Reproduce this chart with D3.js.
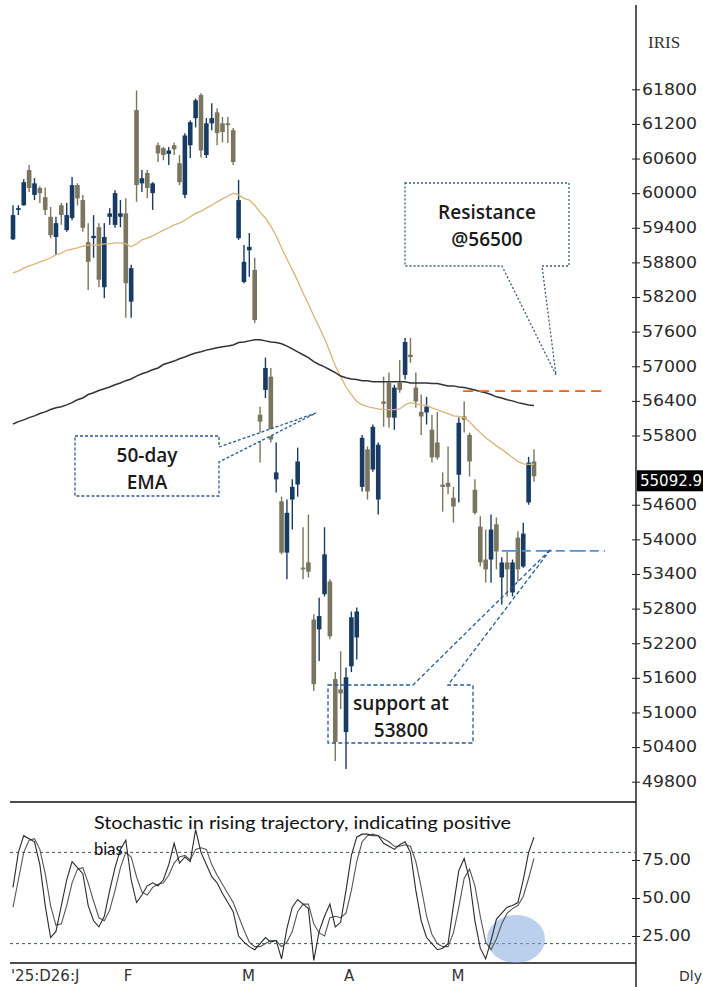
<!DOCTYPE html>
<html>
<head>
<meta charset="utf-8">
<script src="https://cdn.jsdelivr.net/npm/d3@7"></script>
<style>
  body { margin: 0; background: #fff; }
  svg { display: block; }
</style>
</head>
<body>
<script>
const width = 703;
const height = 987;

// daily candles, oldest first (late Dec '25 .. end May '26)
const opens = [
  59200, 59710, 59790, 60400, 59970, 60090, 59930, 59590, 59240, 59790,
  59360, 59570, 60140, 59880, 59150, 59220, 59410, 58370, 59590, 59450,
  59590, 59650, 58120, 61440, 60170, 60350, 60000, 60830, 60780, 60680,
  60830, 60520, 59970, 60830, 61300, 61700, 60660, 61210, 61400, 61210,
  61210, 61090, 59220, 58460, 59010, 58670, 56160, 56590, 56820, 55040,
  54660, 53770, 54690, 54950, 53510, 53600, 52610, 52440, 53050, 53270,
  51580, 51400, 50660, 51800, 52300, 54910, 55560, 55210, 54690, 56390,
  56710, 56110, 56710, 56850, 57200, 56630, 56210, 56200, 55900, 55680,
  54950, 54980, 54720, 55120, 56130, 55810, 54860, 54220, 53650, 53650,
  54260, 53340, 53600, 53080, 54030, 53530, 54640, 55350
];
const highs = [
  59790, 59790, 60240, 60490, 60260, 60120, 60100, 59760, 59590, 59830,
  59830, 60280, 60170, 59970, 59480, 59620, 59480, 59480, 59740, 60050,
  59880, 59910, 58760, 61780, 60400, 60400, 60190, 60880, 60800, 60800,
  60880, 60660, 61040, 61260, 61640, 61730, 61300, 61560, 61470, 61320,
  61320, 61130, 60230, 59100, 59310, 58880, 56300, 57150, 56970, 55680,
  54740, 54690, 55040, 55590, 54210, 54430, 52700, 52990, 54210, 53310,
  51700, 52060, 51780, 52750, 52820, 55810, 55610, 55990, 55680, 56820,
  56890, 56680, 57110, 57490, 57490, 56890, 56510, 56470, 56160, 56210,
  55160, 55610, 54910, 56110, 56390, 55850, 55040, 54400, 54170, 54430,
  54380, 53690, 53790, 53650, 54140, 54290, 55430, 55560
];
const lows = [
  59190, 59620, 59780, 60020, 59880, 59830, 59620, 59220, 58930, 59450,
  59330, 59530, 59790, 59330, 58320, 58880, 58370, 58180, 59450, 59400,
  59410, 57840, 57840, 59850, 60020, 59910, 59710, 60540, 60570, 60490,
  60660, 60140, 59910, 60610, 61140, 60620, 60610, 61090, 60830, 60880,
  60870, 60490, 59190, 58440, 58550, 57750, 55330, 56450, 55680, 54810,
  53740, 53310, 54170, 54740, 53310, 53340, 51370, 51890, 53010, 52270,
  50160, 51060, 50020, 51700, 51920, 54830, 54690, 55170, 54430, 55950,
  55940, 55900, 56540, 56770, 57060, 56280, 55810, 55990, 55330, 55380,
  54480, 54780, 54290, 54640, 55850, 55090, 54430, 53530, 53250, 53250,
  53480, 52870, 53010, 53010, 53270, 53510, 54600, 55000
];
const closes = [
  59620, 59740, 60190, 60090, 60170, 60000, 59710, 59270, 59480, 59620,
  59620, 60140, 59910, 59400, 58810, 59260, 58500, 59240, 59650, 60000,
  59650, 58440, 58700, 60140, 60260, 60090, 60170, 60690, 60660, 60740,
  60760, 60190, 61000, 61230, 61610, 60740, 61210, 61300, 61040, 61060,
  61180, 60540, 59880, 58810, 59070, 57800, 56040, 56970, 55730, 55160,
  53770, 54460, 54910, 55350, 53480, 53440, 51490, 52670, 53740, 52320,
  50490, 51330, 51610, 52650, 52750, 55760, 54830, 55950, 55640, 56350,
  56110, 56630, 56590, 57420, 57160, 56390, 56130, 56300, 55420, 55420,
  54910, 54910, 54570, 56020, 56070, 55350, 54460, 53600, 53480, 54170,
  53790, 53600, 53480, 53600, 53480, 54100, 55330, 55092.9
];

// 50-day EMA (tan) and the long EMA (dark)
const ema50 = [
  58620, 58650, 58700, 58740, 58770, 58810, 58840, 58880, 58930, 58960,
  59010, 59030, 59050, 59080, 59100, 59100, 59100, 59120, 59120, 59140,
  59140, 59120, 59070, 59120, 59190, 59220, 59260, 59310, 59360, 59400,
  59450, 59480, 59530, 59590, 59650, 59690, 59740, 59790, 59850, 59900,
  59950, 60000, 59970, 59910, 59880, 59790, 59670, 59570, 59430, 59260,
  59050, 58860, 58670, 58480, 58270, 58080, 57870, 57680, 57480, 57250,
  57010, 56820, 56640, 56510, 56390, 56330, 56300, 56280, 56260, 56250,
  56250, 56250, 56260, 56330, 56370, 56350, 56330, 56320, 56280, 56250,
  56210, 56180, 56140, 56130, 56110, 56040, 55940, 55850, 55760, 55690,
  55620, 55560, 55490, 55420, 55350, 55310, 55300, 55300
];
const emaLong = [
  56000, 56040, 56070, 56110, 56140, 56180, 56210, 56250, 56280, 56300,
  56330, 56370, 56420, 56450, 56510, 56540, 56580, 56610, 56640, 56680,
  56710, 56750, 56780, 56830, 56870, 56900, 56940, 56970, 57030, 57060,
  57090, 57130, 57160, 57200, 57230, 57250, 57280, 57300, 57320, 57340,
  57350, 57370, 57410, 57420, 57440, 57460, 57460, 57440, 57420, 57410,
  57390, 57350, 57300, 57250, 57200, 57150, 57080, 57030, 56990, 56940,
  56890, 56830, 56800, 56780, 56770, 56750, 56750, 56730, 56730, 56730,
  56730, 56730, 56730, 56730, 56710, 56710, 56710, 56710, 56700, 56700,
  56680, 56660, 56660, 56640, 56630, 56610, 56590, 56560, 56540, 56510,
  56470, 56450, 56420, 56400, 56370, 56350, 56330, 56320
];

// stochastic %K / %D
const stochK = [
  57, 80, 91, 89, 87, 72, 45, 24, 28, 45,
  62, 74, 70, 66, 45, 35, 31, 38, 55, 70,
  82, 88, 62, 47, 52, 58, 60, 58, 62, 72,
  86, 73, 77, 74, 95, 80, 72, 64, 60, 53,
  47, 41, 25, 21, 18, 16, 20, 24, 21, 22,
  10, 30, 44, 49, 46, 43, 9, 28, 38, 46,
  31, 34, 55, 78, 90, 92, 92, 91, 91, 86,
  84, 82, 85, 87, 80, 55, 35, 24, 20, 16,
  17, 20, 45, 68, 76, 62, 35, 17, 10, 22,
  36, 40, 44, 45, 47, 62, 80, 90
];
const stochD = [
  44, 62, 80, 88, 89, 82, 66, 45, 32, 33,
  45, 60, 69, 70, 60, 48, 37, 35, 42, 55,
  70, 80, 77, 64, 54, 52, 57, 59, 60, 65,
  73, 77, 78, 75, 82, 83, 82, 72, 65, 59,
  53, 47, 38, 29, 21, 18, 18, 20, 22, 22,
  18, 21, 28, 41, 46, 46, 33, 27, 25, 37,
  38, 37, 40, 55, 74, 87, 91, 92, 91, 89,
  87, 84, 84, 85, 84, 74, 57, 38, 26, 20,
  18, 18, 27, 44, 63, 69, 58, 38, 21, 16,
  23, 33, 40, 43, 45, 51, 63, 76
];

const priceTicks = [61800, 61200, 60600, 60000, 59400, 58800, 58200, 57600, 57000,
  56400, 55800, 54600, 54000, 53400, 52800, 52200, 51600, 51000, 50400, 49800];
const stochTicks = [75, 50, 25];
const stochLevels = [80, 20];
const monthLabels = ["'25:D26:J", "F", "M", "A", "M"];
const monthStarts = [0, 21, 43, 62, 82];

const lastPrice = 55092.9;
const resistanceLevel = 56570;
const supportLevel = 53800;

const axisX = 636;
const blue = "#183b64";
const grey = "#7a755e";

const svg = d3.select("body")
  .append("svg")
  .attr("width", width)
  .attr("height", height);

const x = d3.scaleLinear()
  .domain([0, opens.length - 1])
  .range([13, 534]);

const y = d3.scaleLinear()
  .domain([49800, 61800])
  .range([781.7, 89.3]);

const ys = d3.scaleLinear()
  .domain([0, 100])
  .range([974, 822]);

const candles = opens.map((o, i) => ({ i, o, h: highs[i], l: lows[i], c: closes[i] }));

// frame lines
svg.append("line")
  .attr("x1", axisX).attr("x2", axisX)
  .attr("y1", 5).attr("y2", height)
  .attr("stroke", "#222").attr("stroke-width", 1.5);

[802, 963].forEach(v => {
  svg.append("line")
    .attr("x1", 10).attr("x2", axisX)
    .attr("y1", v).attr("y2", v)
    .attr("stroke", "#111").attr("stroke-width", 1.5);
});

// price axis
svg.append("g")
  .attr("transform", `translate(${axisX},0)`)
  .call(d3.axisRight(y).tickValues(priceTicks).tickFormat(d3.format("d")).tickSize(4).tickPadding(2))
  .call(g => g.select(".domain").remove())
  .call(g => g.selectAll(".tick line").attr("x1", -4).attr("stroke", "#222"))
  .call(g => g.selectAll(".tick text")
    .attr("font-family", "DejaVu Sans").attr("font-size", 15).attr("fill", "#2a2a2a")
    .attr("textLength", 55).attr("lengthAdjust", "spacingAndGlyphs"));

svg.append("text")
  .attr("x", 648).attr("y", 48)
  .attr("font-family", "Liberation Serif").attr("font-size", 17).attr("fill", "#333")
  .text("IRIS");

// candles
const cg = svg.append("g");
cg.selectAll(".wick")
  .data(candles)
  .enter()
  .append("line")
  .attr("class", "wick")
  .attr("x1", d => x(d.i)).attr("x2", d => x(d.i))
  .attr("y1", d => y(d.h)).attr("y2", d => y(d.l))
  .attr("stroke", d => d.c >= d.o ? blue : grey)
  .attr("stroke-width", 1.4);

cg.selectAll(".body")
  .data(candles)
  .enter()
  .append("rect")
  .attr("class", "body")
  .attr("x", d => x(d.i) - 2.3)
  .attr("width", 4.6)
  .attr("y", d => y(Math.max(d.o, d.c)))
  .attr("height", d => Math.max(1.6, y(Math.min(d.o, d.c)) - y(Math.max(d.o, d.c))))
  .attr("fill", d => d.c >= d.o ? blue : grey);

// moving averages
const priceLine = d3.line().x((d, i) => x(i)).y(d => y(d));
svg.append("path")
  .attr("d", priceLine(ema50))
  .attr("fill", "none").attr("stroke", "#d9b476").attr("stroke-width", 1.3);
svg.append("path")
  .attr("d", priceLine(emaLong))
  .attr("fill", "none").attr("stroke", "#2e3338").attr("stroke-width", 1.5);

// resistance / support
svg.append("line")
  .attr("x1", x(84) - 1).attr("x2", 603)
  .attr("y1", y(resistanceLevel)).attr("y2", y(resistanceLevel))
  .attr("stroke", "#f0600f").attr("stroke-width", 1.8).attr("stroke-dasharray", "10,6");
svg.append("line")
  .attr("x1", x(91)).attr("x2", 605)
  .attr("y1", y(supportLevel)).attr("y2", y(supportLevel))
  .attr("stroke", "#4a93dc").attr("stroke-width", 1.6).attr("stroke-dasharray", "16,4,9,5");

// last price tag
svg.append("rect")
  .attr("x", axisX + 1).attr("y", y(lastPrice) - 6)
  .attr("width", 70).attr("height", 21)
  .attr("fill", "#000");
svg.append("text")
  .attr("x", axisX + 4).attr("y", y(lastPrice) + 10)
  .attr("font-family", "DejaVu Sans").attr("font-size", 15).attr("fill", "#fff")
  .text(d3.format(".1f")(lastPrice));

// callouts
const calloutFont = "Open Sans";
function callout(path, dash, stroke, fill, lines, cx, cy) {
  svg.append("path")
    .attr("d", path)
    .attr("fill", fill)
    .attr("stroke", stroke)
    .attr("stroke-width", 1.3)
    .attr("stroke-dasharray", dash);
  lines.forEach((t, k) => {
    svg.append("text")
      .attr("x", cx).attr("y", cy + k * 27)
      .attr("text-anchor", "middle")
      .attr("dominant-baseline", "central")
      .attr("font-family", calloutFont).attr("font-weight", 600)
      .attr("font-size", 19).attr("fill", "#1a1a1a")
      .text(t);
  });
}

callout("M405,183H569V266H542L556,375L502,266H405Z", "2,2", "#3d5a7a", "#fff",
  ["Resistance", "@56500"], 487, 212);
callout("M75,436H219V447L316,413L219,462V496H75Z", "3,2", "#285a94", "#fff",
  ["50-day", "EMA"], 147, 455);
callout("M328,685H413L551,549L448,685H473V743H328Z", "4,2.5", "#285a94", "none",
  ["support at", "53800"], 401, 703);

// stochastic panel
stochLevels.forEach(v => {
  svg.append("line")
    .attr("x1", 10).attr("x2", axisX)
    .attr("y1", ys(v)).attr("y2", ys(v))
    .attr("stroke", "#3f5a45").attr("stroke-width", 1).attr("stroke-dasharray", "3,3");
});

svg.append("ellipse")
  .attr("cx", 516).attr("cy", 939)
  .attr("rx", 29).attr("ry", 24)
  .attr("fill", "rgba(130,170,220,0.55)");

const stochLine = d3.line().x((d, i) => x(i)).y(d => ys(d));
svg.append("path")
  .attr("d", stochLine(stochD))
  .attr("fill", "none").attr("stroke", "#555").attr("stroke-width", 1.1);
svg.append("path")
  .attr("d", stochLine(stochK))
  .attr("fill", "none").attr("stroke", "#2a2a2a").attr("stroke-width", 1.1);

svg.append("g")
  .attr("transform", `translate(${axisX},0)`)
  .call(d3.axisRight(ys).tickValues(stochTicks).tickFormat(d3.format(".2f")).tickSize(4).tickPadding(2))
  .call(g => g.select(".domain").remove())
  .call(g => g.selectAll(".tick line").attr("x1", -4).attr("stroke", "#222"))
  .call(g => g.selectAll(".tick text")
    .attr("font-family", "DejaVu Sans").attr("font-size", 15).attr("fill", "#2a2a2a")
    .attr("textLength", 49).attr("lengthAdjust", "spacingAndGlyphs"));

svg.append("text")
  .attr("x", 94).attr("y", 829)
  .attr("font-family", "Lato").attr("font-size", 16.5).attr("fill", "#111")
  .attr("textLength", 417).attr("lengthAdjust", "spacingAndGlyphs")
  .text("Stochastic in rising trajectory, indicating positive");
svg.append("text")
  .attr("x", 94).attr("y", 855)
  .attr("font-family", "Lato").attr("font-size", 16.5).attr("fill", "#111")
  .text("bias");

// month labels
svg.selectAll(".month")
  .data(monthLabels)
  .enter()
  .append("text")
  .attr("class", "month")
  .attr("x", (d, k) => x(monthStarts[k]) - 2)
  .attr("y", 981)
  .attr("font-family", "DejaVu Sans").attr("font-size", 15).attr("fill", "#333")
  .text(d => d);

svg.append("text")
  .attr("x", 679).attr("y", 981)
  .attr("font-family", "DejaVu Sans").attr("font-size", 14).attr("fill", "#333")
  .text("Dly");
</script>
</body>
</html>
